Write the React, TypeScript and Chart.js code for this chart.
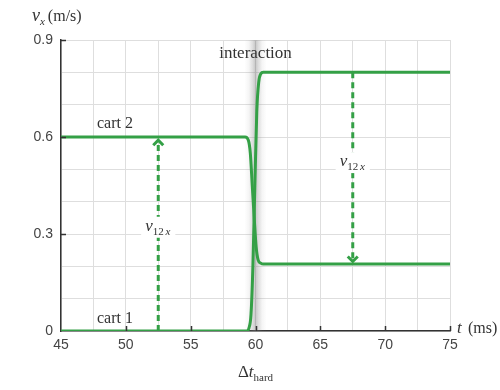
import React, { useEffect, useRef } from "react";
import { Chart, registerables } from "chart.js";

Chart.register(...registerables);

// ---- data ----
const cart1T = [45, 59.3, 59.5, 59.65, 59.8, 59.95, 60.1, 60.25, 60.4, 60.6, 75];
const cart1V = [0, 0, 0.01, 0.05, 0.2, 0.45, 0.68, 0.77, 0.795, 0.8, 0.8];
const cart2T = [45, 59.2, 59.45, 59.6, 59.75, 59.9, 60.05, 60.2, 60.4, 60.6, 75];
const cart2V = [0.6, 0.6, 0.59, 0.55, 0.45, 0.35, 0.26, 0.22, 0.21, 0.207, 0.207];
const arrow1T = 52.5;
const arrow1V = [0, 0.59];
const arrow2T = 67.5;
const arrow2V = [0.8, 0.215];
const label1V = 0.31;
const label2V = 0.51;
const interactionBand = [59.15, 60.85];
const xTickLabels = [45, 50, 55, 60, 65, 70, 75];
const yTickLabels = [0, 0.3, 0.6, 0.9];

const GREEN = "#34a046";
const TEXT = "#333";
const SERIF = "'Liberation Serif', 'DejaVu Serif', serif";

function drawV12x(ctx: CanvasRenderingContext2D, cx: number, baseline: number) {
  ctx.save();
  const f1 = `italic 17px ${SERIF}`;
  const f2 = `11px ${SERIF}`;
  const f3 = `italic 11px ${SERIF}`;
  ctx.font = f1;
  const w1 = ctx.measureText("v").width;
  ctx.font = f2;
  const w2 = ctx.measureText("12").width;
  ctx.font = f3;
  const w3 = ctx.measureText(" x").width;
  const total = w1 + w2 + w3;
  const x0 = cx - total / 2;
  ctx.fillStyle = "#fff";
  ctx.fillRect(x0 - 4, baseline - 14, total + 8, 21);
  ctx.fillStyle = TEXT;
  ctx.textAlign = "left";
  ctx.textBaseline = "alphabetic";
  ctx.font = f1;
  ctx.fillText("v", x0, baseline);
  ctx.font = f2;
  ctx.fillText("12", x0 + w1, baseline + 4);
  ctx.font = f3;
  ctx.fillText(" x", x0 + w1 + w2 - 1, baseline + 4);
  ctx.restore();
}

function arrowHead(ctx: CanvasRenderingContext2D, x: number, y: number, dir: number) {
  ctx.save();
  ctx.strokeStyle = GREEN;
  ctx.lineWidth = 3;
  ctx.lineCap = "butt";
  ctx.beginPath();
  ctx.moveTo(x - 5, y - dir * 5);
  ctx.lineTo(x, y);
  ctx.lineTo(x + 5, y - dir * 5);
  ctx.stroke();
  ctx.restore();
}

const decoPlugin = {
  id: "deco",
  beforeDatasetsDraw(chart: any) {
    const { ctx, chartArea, scales } = chart;
    const xs = scales.x;
    const a = xs.getPixelForValue(interactionBand[0]);
    const b = xs.getPixelForValue(interactionBand[1]);
    const g = ctx.createLinearGradient(a, 0, b, 0);
    g.addColorStop(0, "rgba(130,130,130,0)");
    g.addColorStop(0.2, "rgba(130,130,130,0.08)");
    g.addColorStop(0.38, "rgba(130,130,130,0.28)");
    g.addColorStop(0.5, "rgba(130,130,130,0.45)");
    g.addColorStop(0.62, "rgba(130,130,130,0.28)");
    g.addColorStop(0.8, "rgba(130,130,130,0.08)");
    g.addColorStop(1, "rgba(130,130,130,0)");
    ctx.save();
    ctx.fillStyle = g;
    ctx.fillRect(a, chartArea.top, b - a, chartArea.bottom - chartArea.top);
    ctx.restore();
  },
  afterDatasetsDraw(chart: any) {
    const { ctx, chartArea, scales } = chart;
    const xs = scales.x;
    const ys = scales.y;
    ctx.save();
    ctx.strokeStyle = "#333";
    ctx.lineWidth = 1.5;
    ctx.beginPath();
    xTickLabels.forEach((t) => {
      if (t === xTickLabels[0]) return;
      const px = Math.round(xs.getPixelForValue(t)) + 0.5;
      ctx.moveTo(px, chartArea.bottom);
      ctx.lineTo(px, chartArea.bottom - 5);
    });
    yTickLabels.forEach((v) => {
      if (v === 0) return;
      const py = Math.round(ys.getPixelForValue(v)) + 0.5;
      ctx.moveTo(chartArea.left, py);
      ctx.lineTo(chartArea.left + 5, py);
    });
    ctx.stroke();

    arrowHead(ctx, xs.getPixelForValue(arrow1T), ys.getPixelForValue(arrow1V[1]), -1);
    arrowHead(ctx, xs.getPixelForValue(arrow2T), ys.getPixelForValue(arrow2V[1]), 1);

    drawV12x(ctx, xs.getPixelForValue(arrow1T), ys.getPixelForValue(label1V));
    drawV12x(ctx, xs.getPixelForValue(arrow2T), ys.getPixelForValue(label2V));

    ctx.fillStyle = TEXT;
    ctx.textBaseline = "alphabetic";
    ctx.textAlign = "left";
    ctx.font = `16px ${SERIF}`;
    ctx.fillText("cart 2", 97, 128);
    ctx.fillText("cart 1", 97, 323);
    ctx.textAlign = "center";
    ctx.font = `17px ${SERIF}`;
    ctx.fillText("interaction", xs.getPixelForValue(60), 58);

    ctx.textAlign = "left";
    ctx.font = `italic 18px ${SERIF}`;
    ctx.fillText("v", 32, 21);
    let w = ctx.measureText("v").width;
    ctx.font = `italic 11px ${SERIF}`;
    ctx.fillText("x", 32 + w, 25);
    w += ctx.measureText("x").width + 3;
    ctx.font = `16px ${SERIF}`;
    ctx.fillText("(m/s)", 32 + w, 21);

    ctx.font = `italic 17px ${SERIF}`;
    ctx.fillText("t", 457, 333);
    ctx.font = `16px ${SERIF}`;
    ctx.fillText("(ms)", 468, 333);

    const cx = xs.getPixelForValue(60);
    ctx.font = `17px ${SERIF}`;
    const wd = ctx.measureText("Δ").width;
    ctx.font = `italic 17px ${SERIF}`;
    const wt = ctx.measureText("t").width;
    ctx.font = `11px ${SERIF}`;
    const wh = ctx.measureText("hard").width;
    const x0 = cx - (wd + wt + wh) / 2;
    ctx.font = `17px ${SERIF}`;
    ctx.fillText("Δ", x0, 377);
    ctx.font = `italic 17px ${SERIF}`;
    ctx.fillText("t", x0 + wd, 377);
    ctx.font = `11px ${SERIF}`;
    ctx.fillText("hard", x0 + wd + wt, 381);
    ctx.restore();
  },
};

export default function App() {
  const ref = useRef<HTMLCanvasElement | null>(null);
  useEffect(() => {
    if (!ref.current) return;
    const chart = new Chart(ref.current, {
      type: "line",
      data: {
        datasets: [
          {
            label: "cart 1",
            data: cart1T.map((t, i) => ({ x: t, y: cart1V[i] })),
            borderColor: GREEN,
            borderWidth: 3,
            pointRadius: 0,
            cubicInterpolationMode: "monotone",
            fill: false,
          },
          {
            label: "cart 2",
            data: cart2T.map((t, i) => ({ x: t, y: cart2V[i] })),
            borderColor: GREEN,
            borderWidth: 3,
            pointRadius: 0,
            cubicInterpolationMode: "monotone",
            fill: false,
          },
          {
            label: "arrow 1",
            data: arrow1V.map((v) => ({ x: arrow1T, y: v })),
            borderColor: GREEN,
            borderWidth: 3,
            borderDash: [6, 4],
            pointRadius: 0,
            fill: false,
          },
          {
            label: "arrow 2",
            data: arrow2V.map((v) => ({ x: arrow2T, y: v })),
            borderColor: GREEN,
            borderWidth: 3,
            borderDash: [6, 4],
            pointRadius: 0,
            fill: false,
          },
        ],
      },
      options: {
        animation: false,
        responsive: false,
        devicePixelRatio: 1,
        layout: { padding: { left: 8, right: 50, top: 40, bottom: 34 } },
        plugins: { legend: { display: false }, tooltip: { enabled: false } },
        scales: {
          x: {
            type: "linear",
            min: 45,
            max: 75,
            afterFit: (s: any) => {
              s.height = 25;
            },
            ticks: {
              stepSize: 2.5,
              autoSkip: false,
              maxRotation: 0,
              padding: 6,
              color: "#444",
              font: { family: "'Liberation Sans', Arial, sans-serif", size: 14 },
              callback: (v: any) => (xTickLabels.includes(Number(v)) ? String(v) : ""),
            },
            grid: { color: "#dedede", lineWidth: 1, drawTicks: false },
            border: { color: "#333", width: 1.5 },
          },
          y: {
            type: "linear",
            min: 0,
            max: 0.9,
            afterFit: (s: any) => {
              s.width = 53;
            },
            ticks: {
              stepSize: 0.1,
              autoSkip: false,
              padding: 8,
              color: "#444",
              font: { family: "'Liberation Sans', Arial, sans-serif", size: 14 },
              callback: (v: any) => {
                const r = Math.round(Number(v) * 10) / 10;
                return yTickLabels.includes(r) ? String(r) : "";
              },
            },
            grid: { color: "#dedede", lineWidth: 1, drawTicks: false },
            border: { color: "#333", width: 1.5 },
          },
        },
      },
      plugins: [decoPlugin],
    } as any);
    return () => chart.destroy();
  }, []);
  return (
    <div style={{ position: "fixed", left: 0, top: 0, width: 500, height: 390, background: "#fff" }}>
      <canvas ref={ref} width={500} height={390} style={{ width: 500, height: 390 }} />
    </div>
  );
}
